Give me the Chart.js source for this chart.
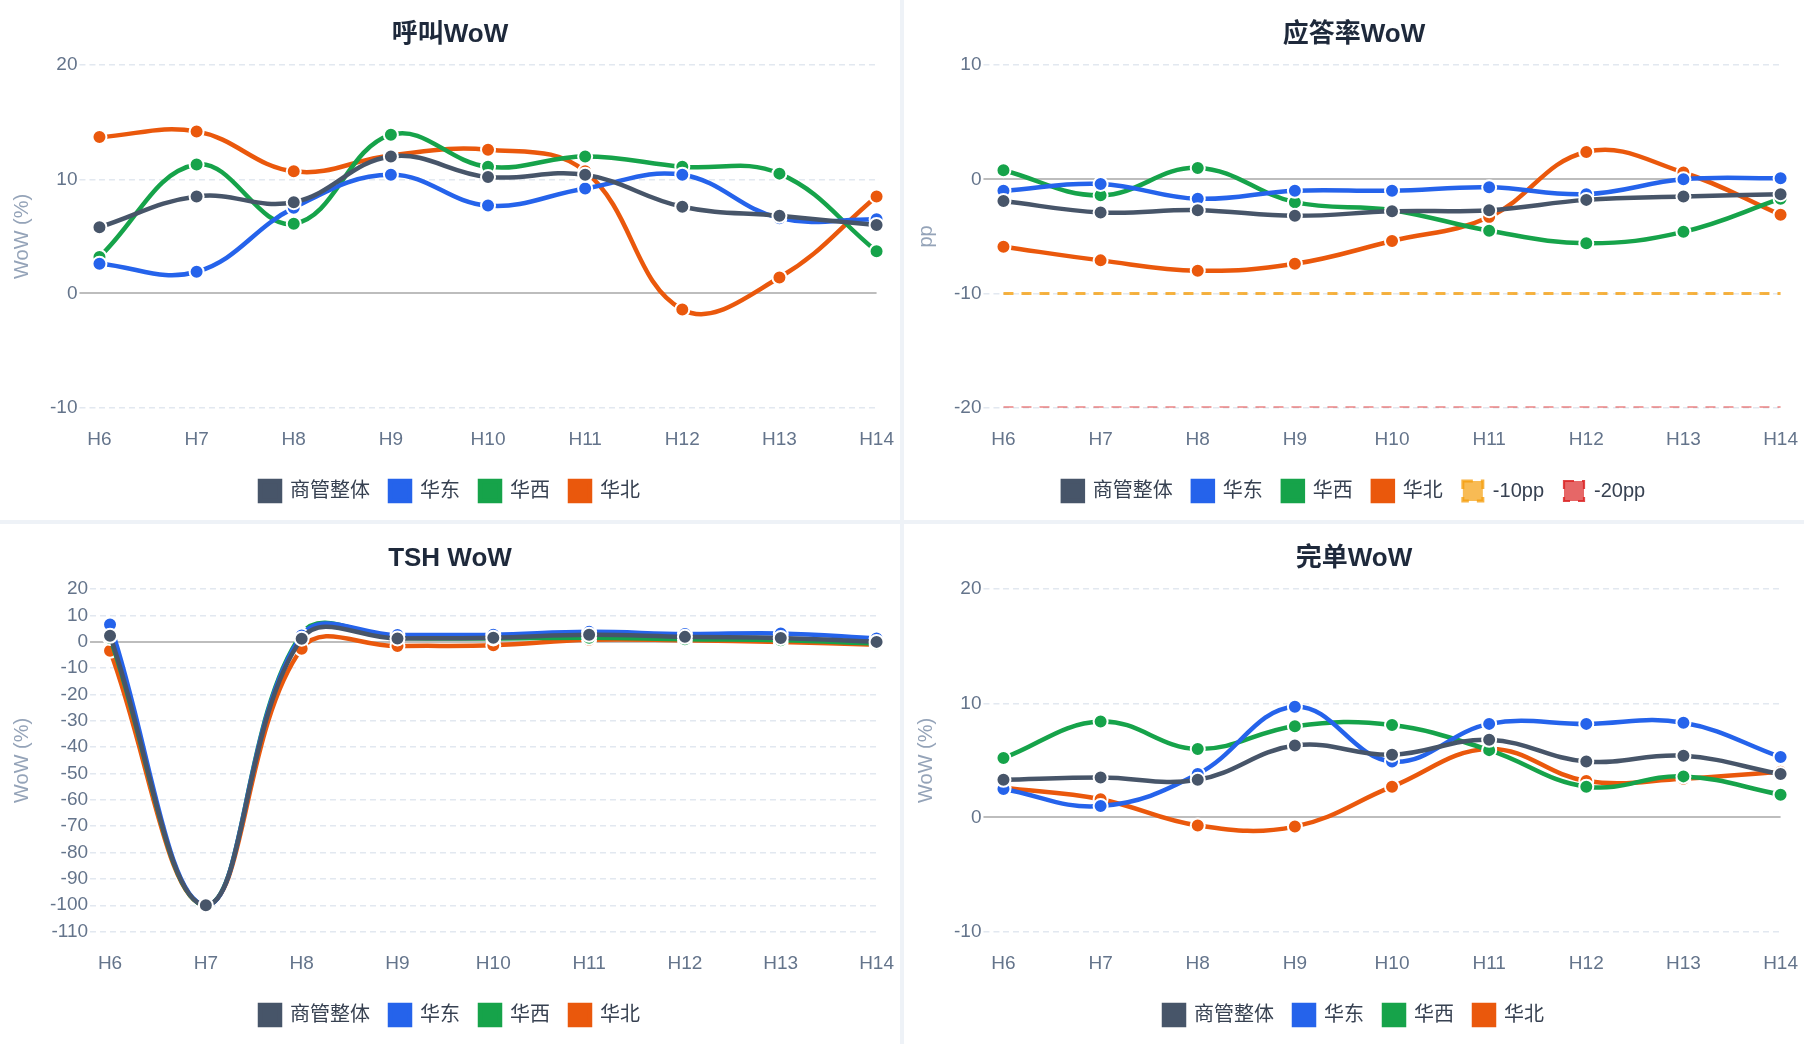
<!DOCTYPE html>
<html>
<head>
<meta charset="utf-8">
<title>WoW</title>
<script src="https://cdn.jsdelivr.net/npm/chart.js@4.4.1/dist/chart.umd.min.js"></script>
<style>
  html, body { margin: 0; padding: 0; }
  body {
    width: 1804px;
    height: 1044px;
    background: #eef2f7;
    display: grid;
    grid-template-columns: 900px 900px;
    grid-template-rows: 520px 520px;
    gap: 4px;
    overflow: hidden;
  }
  .panel { background: #fff; position: relative; width: 900px; height: 520px; }
</style>
</head>
<body>
  <div class="panel"><canvas id="ChartCalls"></canvas></div>
  <div class="panel"><canvas id="ChartAnswer"></canvas></div>
  <div class="panel"><canvas id="ChartTsh"></canvas></div>
  <div class="panel"><canvas id="ChartDone"></canvas></div>

<script>
// categories
var hours = ['H6', 'H7', 'H8', 'H9', 'H10', 'H11', 'H12', 'H13', 'H14'];
var regions = ['商管整体', '华东', '华西', '华北'];
var regionColors = ['#475569', '#2563eb', '#16a34a', '#ea580c'];

// 呼叫WoW (%)
var callsTotal = [5.8, 8.5, 8.0, 12.0, 10.2, 10.4, 7.6, 6.8, 6.0];
var callsEast  = [2.6, 1.9, 7.5, 10.4, 7.7, 9.2, 10.4, 6.6, 6.5];
var callsWest  = [3.2, 11.3, 6.1, 13.9, 11.1, 12.0, 11.1, 10.5, 3.7];
var callsNorth = [13.7, 14.2, 10.7, 12.1, 12.6, 10.7, -1.4, 1.4, 8.5];

// 应答率WoW (pp)
var answerTotal = [-1.9, -2.9, -2.7, -3.2, -2.8, -2.7, -1.8, -1.5, -1.3];
var answerEast  = [-1.0, -0.4, -1.7, -1.0, -1.0, -0.7, -1.3, 0.0, 0.1];
var answerWest  = [0.8, -1.4, 1.0, -2.0, -2.7, -4.5, -5.6, -4.6, -1.7];
var answerNorth = [-5.9, -7.1, -8.0, -7.4, -5.4, -3.3, 2.4, 0.6, -3.1];
var line10pp = [-10, -10, -10, -10, -10, -10, -10, -10, -10];
var line20pp = [-20, -20, -20, -20, -20, -20, -20, -20, -20];

// TSH WoW (%)
var tshTotal = [2.3, -100, 1.2, 1.3, 1.6, 2.7, 1.9, 1.5, 0.0];
var tshEast  = [6.6, -100, 2.4, 2.6, 2.7, 3.8, 3.0, 3.2, 1.3];
var tshWest  = [1.5, -100, 3.0, 1.5, 1.3, 1.6, 1.0, 0.6, -0.6];
var tshNorth = [-3.4, -100, -2.6, -1.6, -1.3, 0.8, 0.6, 0.0, -1.1];

// 完单WoW (%)
var doneTotal = [3.3, 3.5, 3.3, 6.3, 5.5, 6.8, 4.9, 5.4, 3.8];
var doneEast  = [2.5, 1.0, 3.8, 9.7, 4.9, 8.2, 8.2, 8.3, 5.3];
var doneWest  = [5.2, 8.4, 6.0, 8.0, 8.1, 5.9, 2.7, 3.6, 2.0];
var doneNorth = [2.6, 1.6, -0.7, -0.8, 2.7, 6.0, 3.2, 3.4, 4.0];

Chart.defaults.font.family = "'Liberation Sans', 'Noto Sans CJK SC', sans-serif";
Chart.defaults.animation = false;

function regionSets(series) {
  var sets = [];
  for (var i in series) {
    sets.push({
      label: regions[i],
      data: series[i],
      borderColor: regionColors[i],
      backgroundColor: regionColors[i],
      pointBackgroundColor: regionColors[i],
      pointBorderColor: '#ffffff',
      pointBorderWidth: 2,
      pointRadius: 7,
      borderWidth: 4.5,
      tension: 0.4,
      fill: false,
      clip: false
    });
  }
  return sets;
}

function isZero(ctx) {
  return ctx.tick && ctx.tick.value === 0;
}

function makeChart(id, title, yTitle, yMin, yMax, datasets) {
  const el = document.getElementById(id);
  if (!el) return null;
  var ctx = el.getContext('2d');
  return new Chart(ctx, {
    type: 'line',
    data: { labels: hours, datasets: datasets },
    options: {
      responsive: true,
      maintainAspectRatio: false,
      layout: { padding: { top: 0, bottom: 9, left: 0, right: 0 } },
      plugins: {
        title: {
          display: true,
          text: title,
          color: '#1e293b',
          font: { size: 26, weight: 'bold' },
          padding: { top: 19, bottom: 15 }
        },
        legend: {
          position: 'bottom',
          labels: {
            color: '#374151',
            font: { size: 20 },
            boxWidth: 20,
            boxHeight: 20,
            padding: 20
          }
        },
        tooltip: { enabled: false }
      },
      scales: {
        x: {
          grid: { display: false, drawTicks: true, tickLength: 11 },
          border: { display: false },
          ticks: { color: '#64748b', font: { size: 19, lineHeight: 1.6 }, padding: 6 }
        },
        y: {
          min: yMin,
          max: yMax,
          ticks: { stepSize: 10, autoSkip: false, color: '#64748b', font: { size: 19 }, padding: 2 },
          grid: {
            color: function(c) { return isZero(c) ? '#bdbdbd' : '#e2e8f0'; },
            lineWidth: function(c) { return isZero(c) ? 2 : 1.5; },
            tickLength: 20,
            tickBorderDash: function(c) { return isZero(c) ? [] : [6, 4]; }
          },
          border: {
            display: false,
            dash: function(c) { return isZero(c) ? [] : [6, 4]; }
          },
          title: {
            display: true,
            text: yTitle,
            color: '#94a3b8',
            font: { size: 20 },
            padding: { top: 10, bottom: 14 }
          }
        }
      }
    }
  });
}

makeChart('ChartCalls', '呼叫WoW', 'WoW (%)', -10, 20,
  regionSets([callsTotal, callsEast, callsWest, callsNorth]));

var answerSets = regionSets([answerTotal, answerEast, answerWest, answerNorth]);
answerSets.push({
  label: '-10pp',
  data: line10pp,
  borderColor: 'rgba(245, 158, 11, 0.78)',
  backgroundColor: 'rgba(245, 158, 11, 0.7)',
  borderWidth: 3,
  borderDash: [10, 8],
  pointRadius: 0,
  tension: 0,
  fill: false
});
answerSets.push({
  label: '-20pp',
  data: line20pp,
  borderColor: 'rgba(220, 38, 38, 0.85)',
  backgroundColor: 'rgba(220, 38, 38, 0.7)',
  borderWidth: 2.2,
  borderDash: [10, 8],
  pointRadius: 0,
  tension: 0,
  fill: false
});
makeChart('ChartAnswer', '应答率WoW', 'pp', -20, 10, answerSets);

makeChart('ChartTsh', 'TSH WoW', 'WoW (%)', -110, 20,
  regionSets([tshTotal, tshEast, tshWest, tshNorth]));

makeChart('ChartDone', '完单WoW', 'WoW (%)', -10, 20,
  regionSets([doneTotal, doneEast, doneWest, doneNorth]));
</script>
</body>
</html>
